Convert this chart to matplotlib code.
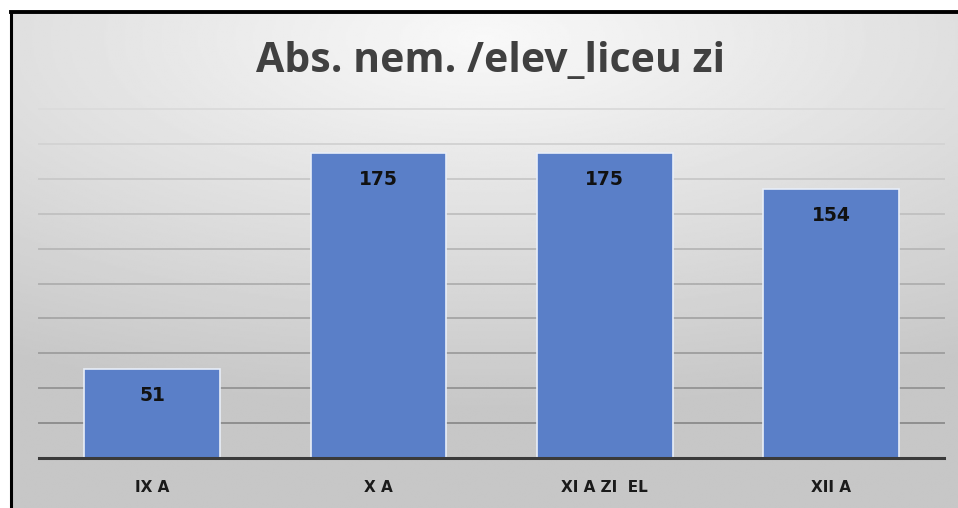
import numpy as np
import matplotlib
matplotlib.use("Agg")
import matplotlib.pyplot as plt

plt.rcParams["font.family"] = ["Open Sans", "DejaVu Sans"]

categories = ["IX A", "X A", "XI A ZI  EL", "XII A"]
values = [51, 175, 175, 154]
title = "Abs. nem. /elev_liceu zi"
grid_levels = list(range(20, 201, 20))

W, H = 958, 508
fig = plt.figure(figsize=(W / 100, H / 100), dpi=100)
fig.patch.set_facecolor("white")

# gradient background inside the frame
bg = fig.add_axes([12 / W, 0, 1 - 12 / W, 1 - 13 / H])
bg.set_axis_off()
yy, xx = np.mgrid[0:1:300j, 0:1:500j]
dist = np.sqrt(((xx - 0.5) * 1.0) ** 2 + ((yy - 0.05) * 1.3) ** 2)
grad = np.clip(0.975 - 0.2 * dist, 0.78, 1.0)
bg.imshow(grad, cmap="gray", vmin=0, vmax=1, aspect="auto", extent=[0, 1, 1, 0])
bg.set_xlim(0, 1)
bg.set_ylim(1, 0)

# frame: left and top lines only
fig.add_artist(plt.Line2D([11 / W, 11 / W], [0, 1 - 12 / H], color="black", lw=2.2))
fig.add_artist(plt.Line2D([11 / W, 1], [1 - 12 / H, 1 - 12 / H], color="black", lw=2.8))

ax = fig.add_axes([39 / W, 50 / H, (944 - 39) / W, (458 - 109) / H])
ax.patch.set_alpha(0)
x = np.arange(len(categories))
bars = ax.bar(x, values, width=0.6, color="#5a7fc8", edgecolor="#e8eef8", linewidth=1.2, zorder=3)
ax.set_ylim(0, 200)
ax.set_xlim(-0.5, len(categories) - 0.5)

# gridlines get darker towards the bottom
for lv in grid_levels:
    shade = 0.56 + 0.30 * (lv - 20) / 180
    ax.axhline(lv, color=str(shade), lw=1.4, zorder=1, clip_on=False)

ax.set_yticks([])
ax.tick_params(axis="x", bottom=False, pad=12)
ax.set_xticks(x)
ax.set_xticklabels(categories, fontsize=11, fontweight="bold", color="#1a1a1a",
                   family="DejaVu Sans")
for side in ["top", "right", "left"]:
    ax.spines[side].set_visible(False)
ax.spines["bottom"].set_color("#3a3a3a")
ax.spines["bottom"].set_linewidth(2.2)
ax.spines["bottom"].set_zorder(4)

for b, v in zip(bars, values):
    ax.annotate(str(v), (b.get_x() + b.get_width() / 2, v), xytext=(0, -19),
                textcoords="offset points", ha="center", va="center",
                fontsize=13.5, fontweight="bold", color="#111111", zorder=5,
                family="DejaVu Sans")

fig.text(491 / W, 1 - 72 / H, title, ha="center", va="baseline",
         fontsize=29.5, fontweight="bold", color="#404040")

fig.savefig("out.png", dpi=100)
